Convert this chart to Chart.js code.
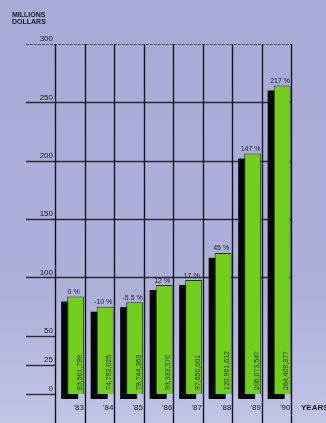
<!DOCTYPE html>
<html>
<head>
<meta charset="utf-8">
<script src="https://cdn.jsdelivr.net/npm/chart.js@4/dist/chart.umd.min.js"></script>
<style>
  html, body { margin: 0; padding: 0; }
  body { width: 326px; height: 423px; overflow: hidden;
         background: linear-gradient(#a8aad7 0%, #aeb0da 70%, #c2c4e6 100%); }
  canvas { display: block; }
</style>
</head>
<body>
<canvas id="c" width="326" height="423"></canvas>
<script>
// ---- data ----
const years = ["'83", "'84", "'85", "'86", "'87", "'88", "'89", "'90"];
const valuesMillions = [83.501799, 74.792025, 78.744363, 93.333370, 97.650001, 120.961612, 206.073547, 264.409377];
const valueLabels = ["83,501,799", "74,792,025", "78,744,363", "93,333,370", "97,650,001", "120,961,612", "206,073,547", "264,409,377"];
const pctLabels = ["0 %", "-10 %", "-5.5 %", "12 %", "17 %", "45 %", "147 %", "217 %"];
const yTickValues = [0, 25, 50, 100, 150, 200, 250, 300];
const fullGridValues = [100, 150, 200, 250, 300];

const FONT = "'Liberation Sans', Arial, sans-serif";

const decor = {
  id: 'decor',
  beforeDatasetsDraw(chart) {
    const ctx = chart.ctx, a = chart.chartArea, y = chart.scales.y;
    const n = years.length, step = a.width / n;
    ctx.save();
    // horizontal lines
    yTickValues.forEach(v => {
      const py = Math.round(y.getPixelForValue(v)) + 0.5;
      const full = fullGridValues.includes(v);
      ctx.beginPath();
      ctx.lineWidth = v === 300 ? 1.2 : 1.4;
      ctx.strokeStyle = v === 300 ? '#50505e' : '#2a2a34';
      if (v === 300) ctx.setLineDash([3, 1]); else ctx.setLineDash([]);
      ctx.moveTo(26, py);
      ctx.lineTo(full ? a.right : a.left, py);
      ctx.stroke();
    });
    ctx.setLineDash([]);
    // vertical lines
    const top = y.getPixelForValue(300);
    for (let i = 0; i <= n; i++) {
      const px = Math.round(a.left + i * step) + 0.5;
      ctx.beginPath();
      ctx.lineWidth = 1.4;
      ctx.strokeStyle = '#15151c';
      ctx.moveTo(px, top);
      ctx.lineTo(px, chart.height);
      ctx.stroke();
    }
    // black offset shadows behind bars (from the bar elements)
    const meta = chart.getDatasetMeta(1);
    ctx.fillStyle = '#060606';
    meta.data.forEach(bar => {
      const w = bar.width;
      ctx.fillRect(bar.x - w / 2 - 6, bar.y + 5, w, bar.base - bar.y);
    });
    ctx.restore();
  },
  afterDatasetsDraw(chart) {
    const ctx = chart.ctx;
    const meta = chart.getDatasetMeta(1);
    const a = chart.chartArea;
    ctx.save();
    meta.data.forEach((bar, i) => {
      // percent labels
      ctx.font = '7px ' + FONT;
      ctx.fillStyle = '#1a1a22';
      ctx.textAlign = 'center';
      ctx.textBaseline = 'bottom';
      ctx.fillText(pctLabels[i], bar.x - 2, bar.y - 1);
      // value labels (vertical)
      ctx.save();
      ctx.translate(bar.x + 4, a.bottom - 4);
      ctx.rotate(-Math.PI / 2);
      ctx.textAlign = 'left';
      ctx.textBaseline = 'middle';
      ctx.font = '7px ' + FONT;
      ctx.fillStyle = '#1c2a10';
      ctx.fillText(valueLabels[i], 0, 0);
      ctx.restore();
    });
    // titles
    ctx.font = 'bold 7px ' + FONT;
    ctx.fillStyle = '#1a1a24';
    ctx.textAlign = 'left';
    ctx.textBaseline = 'alphabetic';
    ctx.fillText('MILLIONS', 12, 17);
    ctx.fillText('DOLLARS', 12, 24);
    ctx.font = 'bold 8px ' + FONT;
    ctx.textBaseline = 'middle';
    ctx.fillText('YEARS', 301, 408);
    ctx.restore();
  }
};

new Chart(document.getElementById('c'), {
  type: 'bar',
  data: {
    labels: years,
    datasets: [
      { label: 'pad', data: years.map(() => null) },
      {
        label: 'Millions dollars',
        data: valuesMillions,
        backgroundColor: '#72cd1d',
        borderColor: '#1e3a0c',
        borderWidth: 1,
        clip: false
      }
    ]
  },
  options: {
    responsive: false,
    animation: false,
    devicePixelRatio: 1,
    layout: { padding: { top: 44, right: 35, left: 0, bottom: 0 } },
    datasets: { bar: { categoryPercentage: 0.8, barPercentage: 1.44 } },
    plugins: { legend: { display: false }, tooltip: { enabled: false } },
    scales: {
      x: {
        type: 'category',
        offset: true,
        grid: { display: false, drawTicks: false },
        border: { display: false },
        ticks: { font: { size: 8, family: FONT }, color: '#1a1a24', labelOffset: 9, padding: 9, maxRotation: 0, autoSkip: false },
        afterFit: s => { s.height = 29; }
      },
      y: {
        min: 0, max: 300,
        afterBuildTicks: s => { s.ticks = yTickValues.map(v => ({ value: v })); },
        grid: { display: false, drawTicks: false },
        border: { display: false },
        ticks: { font: { size: 8, family: FONT }, color: '#1a1a24', padding: 2, labelOffset: -5 },
        afterFit: s => { s.width = 55; }
      }
    }
  },
  plugins: [decor]
});
</script>
</body>
</html>
